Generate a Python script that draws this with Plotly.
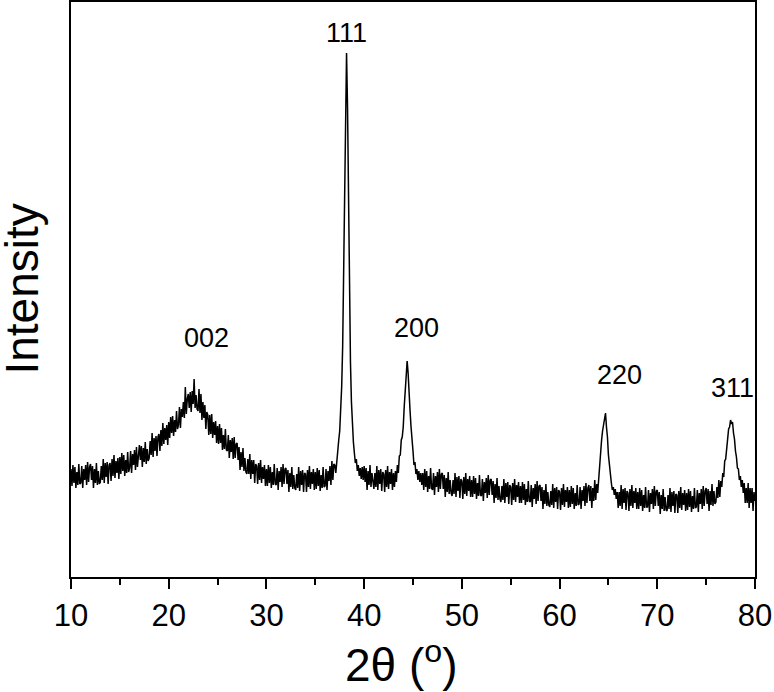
import plotly.graph_objects as go

# 2-theta grid start/step (degrees) and intensity readings (a.u.), 0.1 deg steps
theta_start = 10.0
theta_step = 0.1

intensity_rows = [
    [108, 91, 112, 94, 110, 89, 105, 92, 113, 93],         # 10
    [94, 111, 89, 108, 97, 112, 92, 115, 95, 110],         # 11
    [113, 97, 111, 89, 108, 94, 114, 92, 106, 93],         # 12
    [95, 111, 97, 118, 94, 114, 100, 115, 93, 112],        # 13
    [114, 96, 118, 101, 122, 99, 116, 104, 119, 98],       # 14
    [120, 103, 124, 106, 122, 101, 117, 104, 125, 105],    # 15
    [109, 126, 104, 123, 112, 127, 107, 130, 110, 125],    # 16
    [132, 117, 131, 110, 129, 115, 135, 113, 128, 116],    # 17
    [119, 136, 122, 144, 120, 139, 126, 141, 121, 140],    # 18
    [143, 126, 147, 131, 154, 133, 149, 137, 152, 132],    # 19
    [155, 139, 160, 144, 161, 141, 157, 145, 166, 148],    # 20
    [152, 170, 149, 168, 160, 175, 159, 190, 163, 178],    # 21
    [183, 169, 185, 165, 186, 173, 198, 169, 182, 168],    # 22
    [166, 188, 164, 183, 157, 175, 159, 172, 148, 165],    # 23
    [162, 142, 162, 143, 163, 139, 155, 142, 156, 134],    # 24
    [151, 133, 153, 134, 149, 127, 142, 128, 148, 127],    # 25
    [126, 142, 119, 137, 125, 139, 118, 140, 119, 133],    # 26
    [134, 117, 130, 107, 125, 110, 129, 106, 119, 105],    # 27
    [103, 118, 103, 123, 98, 117, 103, 117, 94, 113],      # 28
    [111, 93, 114, 97, 117, 94, 110, 98, 112, 91],         # 29
    [108, 91, 112, 94, 110, 89, 105, 92, 113, 93],         # 30
    [92, 109, 87, 106, 95, 110, 90, 113, 93, 108],         # 31
    [109, 93, 107, 85, 104, 90, 110, 88, 102, 89],         # 32
    [87, 103, 89, 110, 86, 106, 92, 107, 85, 104],         # 33
    [103, 85, 107, 90, 111, 88, 105, 93, 108, 87],         # 34
    [105, 88, 109, 91, 107, 86, 102, 89, 110, 90],         # 35
    [91, 108, 87, 106, 96, 111, 92, 116, 97, 113],         # 36
    [112, 104, 118, 122, 137, 146, 165, 190, 230, 300],    # 37
    [390, 475, 524, 470, 370, 280, 215, 175, 150, 135],    # 38
    [124, 114, 118, 106, 112, 101, 109, 98, 110, 97],      # 39
    [111, 95, 109, 87, 106, 92, 112, 90, 104, 91],         # 40
    [88, 104, 90, 111, 87, 107, 93, 108, 86, 105],         # 41
    [103, 85, 107, 90, 111, 88, 105, 93, 108, 87],         # 42
    [104, 90, 106, 95, 112, 104, 121, 122, 137, 140],      # 43
    [150, 170, 190, 207, 216, 204, 190, 166, 150, 132],    # 44
    [126, 112, 115, 103, 108, 97, 106, 95, 104, 92],       # 45
    [104, 87, 108, 90, 106, 85, 101, 88, 109, 89],         # 46
    [87, 104, 82, 101, 90, 105, 85, 108, 88, 103],         # 47
    [104, 88, 102, 80, 99, 85, 105, 83, 97, 84],           # 48
    [81, 97, 83, 104, 80, 100, 86, 101, 79, 98],           # 49
    [96, 78, 100, 83, 104, 81, 98, 86, 101, 80],           # 50
    [97, 80, 101, 83, 99, 78, 94, 81, 102, 82],            # 51
    [81, 98, 76, 95, 84, 99, 79, 102, 82, 97],             # 52
    [98, 82, 96, 74, 93, 79, 99, 77, 91, 78],              # 53
    [75, 91, 77, 98, 74, 94, 80, 95, 73, 92],              # 54
    [90, 72, 94, 77, 98, 75, 92, 80, 95, 74],              # 55
    [91, 74, 95, 77, 93, 72, 88, 75, 96, 76],              # 56
    [75, 92, 70, 89, 78, 93, 73, 96, 76, 91],              # 57
    [92, 76, 90, 68, 87, 73, 93, 71, 85, 72],              # 58
    [70, 86, 72, 93, 69, 89, 75, 90, 68, 87],              # 59
    [85, 67, 89, 72, 93, 70, 87, 75, 90, 69],              # 60
    [87, 70, 91, 73, 89, 68, 84, 71, 92, 72],              # 61
    [73, 90, 68, 87, 76, 91, 71, 94, 74, 89],              # 62
    [92, 76, 91, 69, 89, 76, 97, 77, 93, 84],              # 63
    [100, 112, 122, 137, 146, 154, 157, 164, 150, 140],    # 64
    [122, 110, 99, 94, 87, 90, 82, 88, 78, 85],            # 65
    [69, 85, 71, 92, 68, 88, 74, 89, 67, 86],              # 66
    [84, 66, 88, 71, 92, 69, 86, 74, 89, 68],              # 67
    [85, 68, 89, 71, 87, 66, 82, 69, 90, 70],              # 68
    [70, 87, 65, 84, 73, 88, 68, 91, 71, 86],              # 69
    [87, 71, 85, 63, 82, 68, 88, 66, 80, 67],              # 70
    [66, 82, 68, 89, 65, 85, 71, 86, 64, 83],              # 71
    [82, 64, 86, 69, 90, 67, 84, 72, 87, 66],              # 72
    [84, 67, 88, 70, 86, 65, 81, 68, 89, 69],              # 73
    [70, 87, 65, 84, 73, 88, 68, 91, 71, 86],              # 74
    [89, 73, 88, 66, 86, 72, 93, 71, 86, 73],              # 75
    [75, 90, 79, 97, 80, 96, 90, 104, 100, 116],           # 76
    [118, 128, 134, 148, 150, 157, 153, 155, 144, 138],    # 77
    [126, 120, 109, 108, 97, 101, 90, 97, 84, 94],         # 78
    [74, 89, 74, 94, 69, 89, 74, 89, 66, 85],              # 79
    [76],                                                  # 80
]

peak_labels = ["002", "111", "200", "220", "311"]
peak_label_theta = [23.9, 38.2, 45.4, 66.1, 77.65]
peak_label_intensity = [239, 544, 249, 202, 189]

x_ticks = [10, 20, 30, 40, 50, 60, 70, 80]

intensity = [v for row in intensity_rows for v in row]
theta = [round(theta_start + i * theta_step, 2) for i in range(len(intensity))]

FONT = "Arial, Liberation Sans, sans-serif"

fig = go.Figure()
fig.add_trace(go.Scatter(x=theta, y=intensity, mode="lines",
                         line=dict(color="black", width=1.5),
                         showlegend=False, hoverinfo="skip"))

for lab, tx, ty in zip(peak_labels, peak_label_theta, peak_label_intensity):
    fig.add_annotation(x=tx, y=ty, text=lab, showarrow=False,
                       font=dict(family=FONT, size=27, color="black"),
                       xanchor="center", yanchor="middle")

# axis titles
fig.add_annotation(xref="paper", yref="paper", x=0.4825, y=-0.148,
                   text="2θ (<sup>o</sup>)", showarrow=False,
                   font=dict(family=FONT, size=46, color="black"),
                   xanchor="center", yanchor="middle")
fig.add_annotation(xref="paper", yref="paper", x=-0.073, y=0.5,
                   text="Intensity", showarrow=False, textangle=-90,
                   font=dict(family=FONT, size=46, color="black"),
                   xanchor="center", yanchor="middle")

fig.update_layout(
    width=774, height=692,
    margin=dict(l=71, r=19, t=2, b=115),
    paper_bgcolor="white", plot_bgcolor="white",
    font=dict(family=FONT, color="black"),
    xaxis=dict(range=[10, 80], tickvals=x_ticks, ticks="outside", ticklen=10,
               tickwidth=2, tickcolor="black", automargin=False,
               minor=dict(dtick=5, ticks="outside", ticklen=6, tickwidth=2, tickcolor="black"),
               showgrid=False, zeroline=False, showline=True, linecolor="black",
               linewidth=2, mirror=True,
               tickfont=dict(family=FONT, size=31, color="black")),
    yaxis=dict(range=[0, 575], showticklabels=False, ticks="", showgrid=False,
               zeroline=False, showline=True, linecolor="black", linewidth=1.5,
               mirror=True, automargin=False),
)

fig.write_html("out.html", config={"displayModeBar": False},
               post_script="document.body.style.margin='0';document.body.style.padding='0';")
